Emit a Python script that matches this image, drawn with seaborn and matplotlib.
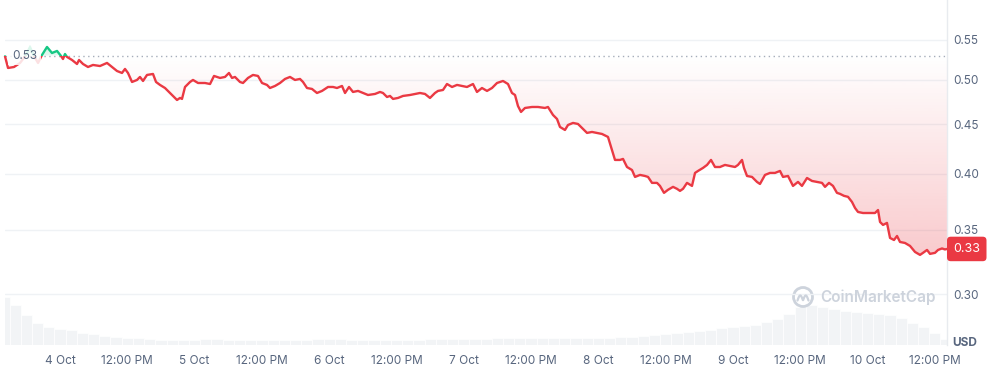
import numpy as np
import matplotlib
matplotlib.use("Agg")
import matplotlib.pyplot as plt
import seaborn as sns
from matplotlib.patches import Rectangle, Circle
from matplotlib.path import Path
from matplotlib.image import BboxImage
from matplotlib.transforms import Bbox, TransformedBbox
from matplotlib.ticker import FixedLocator, FixedFormatter, NullLocator, NullFormatter

# ---------------- data ----------------
# hours since 3 Oct 00:00
price_hours = [14.19, 14.73, 15.80, 16.87, 17.94, 18.65, 19.36, 20.08, 20.79, 21.68, 22.57, 23.47,
               24.18, 24.53, 24.89, 25.25, 26.14, 27.03, 27.39, 28.10, 28.99, 29.88, 31.13, 32.38,
               33.27, 34.16, 35.05, 35.59, 36.12, 36.84, 37.73, 38.26, 38.80, 39.51, 40.58, 41.12,
               41.83, 42.72, 43.61, 44.86, 45.40, 45.75, 46.29, 47.18, 47.71, 48.61, 49.85, 50.75,
               51.46, 52.53, 53.42, 54.13, 54.67, 55.20, 56.09, 56.63, 57.52, 58.41, 59.30, 60.02,
               60.91, 61.44, 62.34, 63.23, 64.12, 65.01, 65.90, 66.79, 67.33, 68.04, 68.93, 69.82,
               70.72, 71.79, 72.68, 73.39, 74.28, 74.82, 75.53, 76.24, 77.14, 78.03, 78.92, 80.17,
               81.06, 81.59, 82.31, 82.84, 83.38, 84.27, 85.16, 86.41, 87.30, 88.19, 89.08, 89.97,
               90.86, 91.40, 92.29, 93.00, 93.90, 94.79, 95.68, 96.57, 97.64, 98.35, 99.24, 100.14,
               101.03, 101.92, 102.99, 103.88, 104.59, 105.13, 105.66, 106.20, 106.91, 108.16, 109.23,
               110.48, 111.01, 111.90, 112.62, 113.15, 114.04, 114.58, 115.47, 116.36, 117.08, 117.97,
               118.86, 119.75, 120.64, 121.71, 122.43, 122.96, 123.85, 124.39, 125.10, 125.99, 126.53,
               127.42, 128.31, 128.85, 129.56, 130.45, 130.98, 131.70, 132.41, 133.31, 134.02, 134.55,
               135.09, 135.80, 136.69, 137.23, 137.76, 138.65, 139.37, 140.08, 140.79, 141.68, 142.57,
               143.47, 144.36, 144.89, 145.61, 145.96, 146.50, 147.39, 148.28, 148.81, 149.71, 150.60,
               151.49, 152.38, 152.92, 153.81, 154.70, 155.59, 156.30, 157.20, 158.09, 158.98, 159.87,
               160.41, 161.12, 161.83, 162.54, 163.08, 163.79, 164.51, 165.22, 165.76, 166.29, 167.18,
               167.90, 168.43, 169.32, 169.86, 170.22, 170.75, 171.46, 172.00, 172.71, 173.25, 173.78,
               174.67, 175.57, 176.46, 177.35, 177.88, 178.60, 179.13, 180.02, 180.56, 181.27, 181.80,
               182.16]
prices = [0.5290, 0.5145, 0.5157, 0.5207, 0.5307, 0.5409, 0.5294, 0.5207, 0.5307, 0.5409, 0.5332, 0.5358,
          0.5294, 0.5256, 0.5319, 0.5282, 0.5244, 0.5194, 0.5244, 0.5194, 0.5157, 0.5182, 0.5169, 0.5207,
          0.5157, 0.5108, 0.5084, 0.5133, 0.5084, 0.4976, 0.5000, 0.5036, 0.4988, 0.5060, 0.5072, 0.4976,
          0.4941, 0.4905, 0.4847, 0.4767, 0.4790, 0.4779, 0.4917, 0.4976, 0.5000, 0.4964, 0.4964, 0.4952,
          0.5048, 0.5024, 0.5036, 0.5084, 0.5024, 0.5036, 0.4976, 0.4964, 0.5024, 0.5060, 0.5048, 0.4964,
          0.4941, 0.4905, 0.4929, 0.4964, 0.5012, 0.5036, 0.5000, 0.5012, 0.4976, 0.4905, 0.4894, 0.4847,
          0.4871, 0.4917, 0.4917, 0.4905, 0.4929, 0.4847, 0.4917, 0.4859, 0.4871, 0.4847, 0.4824, 0.4836,
          0.4859, 0.4847, 0.4801, 0.4813, 0.4779, 0.4790, 0.4813, 0.4824, 0.4836, 0.4847, 0.4836, 0.4790,
          0.4847, 0.4871, 0.4882, 0.4952, 0.4917, 0.4941, 0.4929, 0.4917, 0.4952, 0.4859, 0.4905, 0.4871,
          0.4905, 0.4964, 0.4988, 0.4952, 0.4847, 0.4824, 0.4699, 0.4633, 0.4677, 0.4688, 0.4688,
          0.4677, 0.4688, 0.4600, 0.4556, 0.4470, 0.4438, 0.4491, 0.4513, 0.4502, 0.4459, 0.4407,
          0.4417, 0.4407, 0.4396, 0.4365, 0.4231, 0.4132, 0.4132, 0.4142, 0.4063, 0.4034, 0.3968,
          0.3987, 0.3977, 0.3968, 0.3912, 0.3912, 0.3884, 0.3820, 0.3848, 0.3875, 0.3857, 0.3838,
          0.3857, 0.3912, 0.3884, 0.4006, 0.4025, 0.4054, 0.4083, 0.4132, 0.4063, 0.4063, 0.4083,
          0.4073, 0.4063, 0.4083, 0.4132, 0.4054, 0.3977, 0.3968, 0.3921, 0.3902, 0.3987, 0.4006,
          0.4006, 0.4025, 0.3968, 0.3977, 0.3884, 0.3921, 0.3884, 0.3958, 0.3930, 0.3921, 0.3912,
          0.3875, 0.3912, 0.3884, 0.3820, 0.3811, 0.3793, 0.3784, 0.3738, 0.3685, 0.3650, 0.3641,
          0.3641, 0.3641, 0.3641, 0.3667, 0.3564, 0.3539, 0.3556, 0.3431, 0.3414, 0.3447, 0.3398,
          0.3390, 0.3366, 0.3318, 0.3295, 0.3311, 0.3334, 0.3303, 0.3311, 0.3334, 0.3346, 0.3338,
          0.3342]

open_price = 0.53

vol_hours = [14, 16, 18, 20, 22, 24, 26, 28, 30, 32, 34, 36, 38, 40, 42, 44, 46, 48, 50, 52, 54, 56,
             58, 60, 62, 64, 66, 68, 70, 72, 74, 76, 78, 80, 82, 84, 86, 88, 90, 92, 94, 96, 98, 100,
             102, 104, 106, 108, 110, 112, 114, 116, 118, 120, 122, 124, 126, 128, 130, 132, 134,
             136, 138, 140, 142, 144, 146, 148, 150, 152, 154, 156, 158, 160, 162, 164, 166, 168,
             170, 172, 174, 176, 178, 180, 182]
volumes = [48, 40, 30, 22, 18, 16, 15, 12, 11, 9, 8, 7, 7, 6, 5.5, 5, 5, 5.5, 6, 6, 5, 5,
           5, 5, 5, 5, 5, 5.5, 6, 6, 6, 5.5, 5, 5, 5, 5, 5, 5.5, 6, 6, 6.5, 6.5, 6.5, 6.5,
           7, 7, 7, 7, 7, 7, 7, 7, 7, 7.5, 7.5, 8, 8, 9, 10, 11, 12,
           13, 14, 15, 17, 18, 19, 20, 23, 26, 31, 38, 40, 38, 36, 34, 33, 32,
           31, 30, 27, 22, 18, 12, 6]

x_tick_hours = [24, 36, 48, 60, 72, 84, 96, 108, 120, 132, 144, 156, 168, 180]
x_tick_labels = ["4 Oct", "12:00 PM", "5 Oct", "12:00 PM", "6 Oct", "12:00 PM", "7 Oct",
                 "12:00 PM", "8 Oct", "12:00 PM", "9 Oct", "12:00 PM", "10 Oct", "12:00 PM"]
y_ticks = [0.30, 0.35, 0.40, 0.45, 0.50, 0.55]
y_tick_labels = ["0.30", "0.35", "0.40", "0.45", "0.50", "0.55"]

# ---------------- style ----------------
RED = "#ea3943"
GREEN = "#16c784"
LABEL = "#58667e"
GRID = "#eff2f5"

sns.set_style("white")
plt.rcParams["font.family"] = ["Inter", "DejaVu Sans"]

W, H = 993, 368
fig = plt.figure(figsize=(W / 100, H / 100), dpi=100)
ax = fig.add_axes([5 / W, 23 / H, 942 / W, 345 / H])
ax2 = ax.twinx()

hours = np.array(price_hours)
p = np.array(prices)

# volume bars (background)
ax2.bar(vol_hours, volumes, width=2, color="#f2f4f6", edgecolor="white", linewidth=0.5, zorder=1)
ax2.set_ylim(0, max(volumes) * 345 / 48)
ax2.set_yticks([])
for s in ax2.spines.values():
    s.set_visible(False)

ax.set_zorder(ax2.get_zorder() + 1)
ax.patch.set_visible(False)

ax.set_yscale("log")
ax.set_xlim(14.19, 182.16)
ax.set_ylim(0.2658, 0.6050)

# gradient fills between price and open price
def gradient_fill(where, rgb, alpha_fn):
    poly = ax.fill_between(hours, p, open_price, where=where, interpolate=True,
                           facecolor="none", edgecolor="none")
    comp = Path.make_compound_path(*poly.get_paths())
    poly.remove()
    f = np.linspace(0, 1, 400)
    arr = np.zeros((400, 1, 4))
    arr[:, 0, 0:3] = rgb
    arr[:, 0, 3] = np.clip(alpha_fn(f), 0, 1)
    im = BboxImage(TransformedBbox(Bbox([[0, 0], [1, 1]]), ax.transAxes),
                   origin="lower", interpolation="bilinear")
    im.set_data(arr)
    im.set_zorder(2)
    ax.add_artist(im)
    im.set_clip_path(comp, ax.transData)

red_rgb = np.array([234, 57, 67]) / 255
green_rgb = np.array([22, 199, 132]) / 255
gradient_fill(p <= open_price, red_rgb, lambda f: 0.46 * (0.8406 - f))
gradient_fill(p >= open_price, green_rgb, lambda f: 0.12 + 3.0 * (f - 0.8406))

# open price dotted line
ax.axhline(open_price, color="#a5adba", linestyle=(0, (1, 2.5)), linewidth=1, zorder=3)

# price line, coloured by side of open price
sns.lineplot(x=hours, y=p, ax=ax, color=RED, linewidth=1.7, estimator=None, sort=False, zorder=4)
red_line = ax.lines[-1]
sns.lineplot(x=hours, y=p, ax=ax, color=GREEN, linewidth=1.7, estimator=None, sort=False, zorder=4)
green_line = ax.lines[-1]
red_clip = Rectangle((0, 0.01), 400, open_price - 0.01, transform=ax.transData)
green_clip = Rectangle((0, open_price), 400, 10, transform=ax.transData)
red_line.set_clip_path(red_clip)
green_line.set_clip_path(green_clip)

# axes / ticks
ax.yaxis.tick_right()
ax.yaxis.set_major_locator(FixedLocator(y_ticks))
ax.yaxis.set_major_formatter(FixedFormatter(y_tick_labels))
ax.yaxis.set_minor_locator(NullLocator())
ax.yaxis.set_minor_formatter(NullFormatter())
ax.set_xticks(x_tick_hours)
ax.set_xticklabels(x_tick_labels)
ax.tick_params(axis="y", length=0, pad=4.5, labelsize=8.5, labelcolor=LABEL)
ax.tick_params(axis="x", length=0, pad=7, labelsize=8.5, labelcolor=LABEL)
ax.grid(axis="y", color=GRID, linewidth=1)
ax.grid(axis="x", visible=False)
ax.set_xlabel("")
ax.set_ylabel("")
for k, s in ax.spines.items():
    s.set_visible(k == "right")
ax.spines["right"].set_color("#e8ebef")
ax.spines["right"].set_linewidth(1)

# open price label
ax.text(7 / 942, open_price, "0.53", transform=ax.get_yaxis_transform(),
        ha="left", va="center", fontsize=8.5, color=LABEL, zorder=6,
        bbox=dict(boxstyle="square,pad=0.3", facecolor="white", edgecolor="none", alpha=0.85))

# last price badge
ax.annotate(f"{prices[-1]:.2f}", xy=(1, prices[-1]), xycoords=("axes fraction", "data"),
            xytext=(4.5, 0), textcoords="offset points", ha="left", va="center",
            fontsize=9, color="white", annotation_clip=False, zorder=7,
            bbox=dict(boxstyle="round,pad=0.5,rounding_size=0.3", facecolor=RED, edgecolor="none"))

# currency label
fig.text(965 / W, 1 - 343 / H, "USD", ha="center", va="center", fontsize=8.5,
         fontweight="bold", color=LABEL)

# watermark: ring logo with a small "m" wave, then the name
wm = "#cdd3dc"
cx, cy = 803 / 100, (H - 297) / 100
fig.add_artist(Circle((cx, cy), 0.095, transform=fig.dpi_scale_trans,
                      facecolor="none", edgecolor=wm, linewidth=2))
t = np.linspace(0, 1, 40)
wave_x = cx - 0.055 + 0.11 * t
wave_y = cy - 0.035 + 0.05 * np.abs(np.sin(np.pi * 2 * t))
fig.add_artist(plt.Line2D(wave_x, wave_y, transform=fig.dpi_scale_trans, color=wm, linewidth=1.6))
fig.text(820 / W, 1 - 297 / H, "CoinMarketCap", ha="left", va="center", fontsize=11,
         fontweight="semibold", color=wm)

fig.savefig("out.png", dpi=100, facecolor="white")
